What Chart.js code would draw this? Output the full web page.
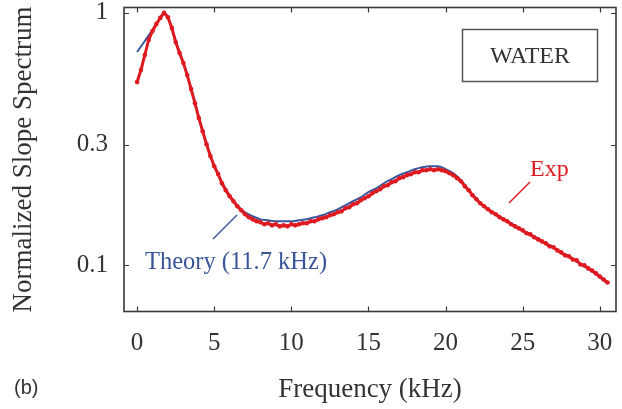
<!DOCTYPE html>
<html><head><meta charset="utf-8">
<script src="https://cdn.jsdelivr.net/npm/chart.js@4.4.1/dist/chart.umd.min.js"></script>
<style>html,body{margin:0;padding:0;background:#fff}#wrap{width:622px;height:409px;position:relative}</style>
</head><body><div id="wrap"><canvas id="c" width="622" height="409"></canvas></div>
<script>
const xTicks = [0, 5, 10, 15, 20, 25, 30];
const yTicks = [0.1, 0.3, 1];
const yTickLabels = ['0.1', '0.3', '1'];

const expFreq = [
  0, 0.25, 0.5, 0.75, 1, 1.25, 1.5, 1.75,
  2, 2.25, 2.5, 2.75, 3, 3.25, 3.5, 3.75,
  4, 4.25, 4.5, 4.75, 5, 5.25, 5.5, 5.75,
  6, 6.25, 6.5, 6.75, 7, 7.25, 7.5, 7.75,
  8, 8.25, 8.5, 8.75, 9, 9.25, 9.5, 9.75,
  10, 10.25, 10.5, 10.75, 11, 11.25, 11.5, 11.75,
  12, 12.25, 12.5, 12.75, 13, 13.25, 13.5, 13.75,
  14, 14.25, 14.5, 14.75, 15, 15.25, 15.5, 15.75,
  16, 16.25, 16.5, 16.75, 17, 17.25, 17.5, 17.75,
  18, 18.25, 18.5, 18.75, 19, 19.25, 19.5, 19.75,
  20, 20.25, 20.5, 20.75, 21, 21.25, 21.5, 21.75,
  22, 22.25, 22.5, 22.75, 23, 23.25, 23.5, 23.75,
  24, 24.25, 24.5, 24.75, 25, 25.25, 25.5, 25.75,
  26, 26.25, 26.5, 26.75, 27, 27.25, 27.5, 27.75,
  28, 28.25, 28.5, 28.75, 29, 29.25, 29.5, 29.75,
  30, 30.25, 30.5
];
const expVal = [
  0.532, 0.594, 0.681, 0.781, 0.848, 0.904, 0.955, 1.000,
  0.960, 0.872, 0.767, 0.694, 0.633, 0.567, 0.499, 0.439,
  0.383, 0.340, 0.302, 0.271, 0.247, 0.230, 0.2115, 0.1985,
  0.1878, 0.1795, 0.1714, 0.1653, 0.1594, 0.1551, 0.1522, 0.1495,
  0.1482, 0.1455, 0.1468, 0.1441, 0.1455, 0.1428, 0.1441, 0.1428,
  0.1455, 0.1441, 0.1455, 0.1468, 0.1468, 0.1495, 0.1495, 0.1522,
  0.1537, 0.1551, 0.1579, 0.1594, 0.1623, 0.1637, 0.1683, 0.1699,
  0.1746, 0.1762, 0.1811, 0.1845, 0.1878, 0.1931, 0.1966, 0.2002,
  0.2058, 0.2077, 0.2135, 0.2155, 0.2215, 0.2236, 0.2277, 0.2297,
  0.2339, 0.2339, 0.2382, 0.2382, 0.2404, 0.2382, 0.2404, 0.2382,
  0.2360, 0.2317, 0.2277, 0.2215, 0.2155, 0.2058, 0.1985, 0.1896,
  0.1828, 0.1762, 0.1714, 0.1668, 0.1623, 0.1594, 0.1551, 0.1522,
  0.1495, 0.1455, 0.1428, 0.1402, 0.1377, 0.1340, 0.1327, 0.1292,
  0.1268, 0.1245, 0.1223, 0.1190, 0.1179, 0.1147, 0.1126, 0.1096,
  0.1086, 0.1056, 0.1047, 0.1009, 0.1000, 0.0973, 0.0955, 0.0930,
  0.0904, 0.0880, 0.0856
];

const theoryFreq = [0, 0.5, 1, 1.5, 1.7, 2, 2.5, 3, 3.5, 4, 4.5, 5, 5.5, 6, 6.5, 7, 7.5, 8, 8.5, 9, 9.5, 10,
  10.5, 11, 11.5, 12, 12.5, 13, 13.5, 14, 14.5, 15, 15.5, 16, 16.5, 17, 17.5, 18, 18.5, 19, 19.5, 20,
  20.5, 21, 21.5, 22, 22.5, 23, 23.5, 24, 24.5, 25, 25.5, 26, 26.5, 27, 27.5, 28, 28.5, 29, 29.5, 30, 30.5];
const theoryVal = [0.700, 0.774, 0.856, 0.955, 1.000, 0.960, 0.774, 0.633, 0.504, 0.387, 0.302, 0.249, 0.2135,
  0.1896, 0.173, 0.1623, 0.1565, 0.1522, 0.1508, 0.1495, 0.1495, 0.1495, 0.1508, 0.1522, 0.1551, 0.1579,
  0.1623, 0.1668, 0.173, 0.1795, 0.1861, 0.1949, 0.202, 0.2115, 0.2195, 0.2277, 0.2339, 0.2404, 0.2448,
  0.247, 0.247, 0.2404, 0.2317, 0.2175, 0.1985, 0.1828, 0.1714, 0.1637, 0.1565, 0.1495, 0.1441, 0.1377,
  0.1327, 0.128, 0.1223, 0.1179, 0.1126, 0.1086, 0.1037, 0.0991, 0.0947, 0.0896, 0.0848];

const SERIF = "'Liberation Serif', 'Times New Roman', serif";
const BLUE = 'rgb(58,86,152)';
const RED = 'rgb(222,26,32)';
const TXT = '#333';

const zeroPad = s => { s.paddingTop = 0; s.paddingBottom = 0; s.paddingLeft = 0; s.paddingRight = 0; };

const decor = {
  id: 'decor',
  afterDraw(chart) {
    const {ctx, chartArea: a, scales: {x, y}} = chart;
    ctx.save();
    ctx.strokeStyle = '#3a3a3a';
    ctx.lineWidth = 1.6;
    ctx.strokeRect(a.left, a.top, a.right - a.left, a.bottom - a.top);
    ctx.lineWidth = 1.2;
    const tl = 5;
    ctx.beginPath();
    xTicks.forEach(v => {
      const px = Math.round(x.getPixelForValue(v)) + 0.5;
      ctx.moveTo(px, a.bottom); ctx.lineTo(px, a.bottom - tl);
      ctx.moveTo(px, a.top); ctx.lineTo(px, a.top + tl);
    });
    yTicks.forEach(v => {
      const py = Math.round(y.getPixelForValue(v)) + 0.5;
      ctx.moveTo(a.left, py); ctx.lineTo(a.left + tl, py);
      ctx.moveTo(a.right, py); ctx.lineTo(a.right - tl, py);
    });
    ctx.stroke();

    ctx.strokeStyle = '#555';
    ctx.lineWidth = 1.5;
    ctx.strokeRect(462.5, 29.5, 135, 52);
    ctx.fillStyle = TXT;
    ctx.font = '24px ' + SERIF;
    ctx.textAlign = 'center';
    ctx.textBaseline = 'alphabetic';
    ctx.fillText('WATER', 530, 63);

    ctx.strokeStyle = BLUE;
    ctx.lineWidth = 1.4;
    ctx.beginPath(); ctx.moveTo(213, 239); ctx.lineTo(237, 215); ctx.stroke();
    ctx.fillStyle = BLUE;
    ctx.textAlign = 'left';
    ctx.font = '24.5px ' + SERIF;
    ctx.fillText('Theory (11.7 kHz)', 145, 269);

    ctx.strokeStyle = RED;
    ctx.beginPath(); ctx.moveTo(509, 203); ctx.lineTo(530, 182); ctx.stroke();
    ctx.fillStyle = RED;
    ctx.font = '24px ' + SERIF;
    ctx.fillText('Exp', 530, 176);

    ctx.fillStyle = TXT;
    ctx.font = "20px 'Liberation Sans', Arial, sans-serif";
    ctx.fillText('(b)', 14, 394);
    ctx.restore();
  }
};

new Chart(document.getElementById('c'), {
  type: 'scatter',
  data: {
    datasets: [
      {
        label: 'Exp',
        data: expFreq.map((f, i) => ({x: f, y: expVal[i]})),
        showLine: true,
        borderWidth: 3,
        pointRadius: 2.3,
        pointBorderWidth: 0,
        backgroundColor: RED,
        borderColor: RED,
        order: 0
      },
      {
        label: 'Theory (11.7 kHz)',
        data: theoryFreq.map((f, i) => ({x: f, y: theoryVal[i]})),
        showLine: true,
        pointRadius: 0,
        borderColor: BLUE,
        borderWidth: 2,
        cubicInterpolationMode: 'monotone',
        order: 1
      }
    ]
  },
  options: {
    responsive: false,
    animation: false,
    devicePixelRatio: 1,
    layout: {padding: {top: 7.5, right: 6, left: 0, bottom: 0}},
    plugins: {legend: {display: false}, tooltip: {enabled: false}},
    scales: {
      x: {
        type: 'linear', min: -0.85, max: 31.05,
        afterBuildTicks: s => { s.ticks = xTicks.map(v => ({value: v})); },
        afterFit: s => { s.height = 97.5; zeroPad(s); },
        grid: {display: false, drawTicks: false},
        border: {display: false},
        ticks: {padding: 17, autoSkip: false, maxRotation: 0, color: TXT,
          font: {family: SERIF, size: 25}, callback: v => String(v)},
        title: {display: true, text: 'Frequency (kHz)', color: TXT,
          font: {family: SERIF, size: 27}, padding: {top: 0, bottom: 3}}
      },
      y: {
        type: 'logarithmic', min: 0.0657, max: 1.05,
        afterBuildTicks: s => { s.ticks = yTicks.map(v => ({value: v})); },
        afterFit: s => { s.width = 124; zeroPad(s); },
        grid: {display: false, drawTicks: false},
        border: {display: false},
        ticks: {padding: 16, autoSkip: false, color: TXT,
          font: {family: SERIF, size: 25}, callback: (v, i) => yTickLabels[i]},
        title: {display: true, text: 'Normalized Slope Spectrum', color: TXT,
          font: {family: SERIF, size: 27}, padding: {top: 8, bottom: 0}}
      }
    }
  },
  plugins: [decor]
});
</script>
</body></html>
